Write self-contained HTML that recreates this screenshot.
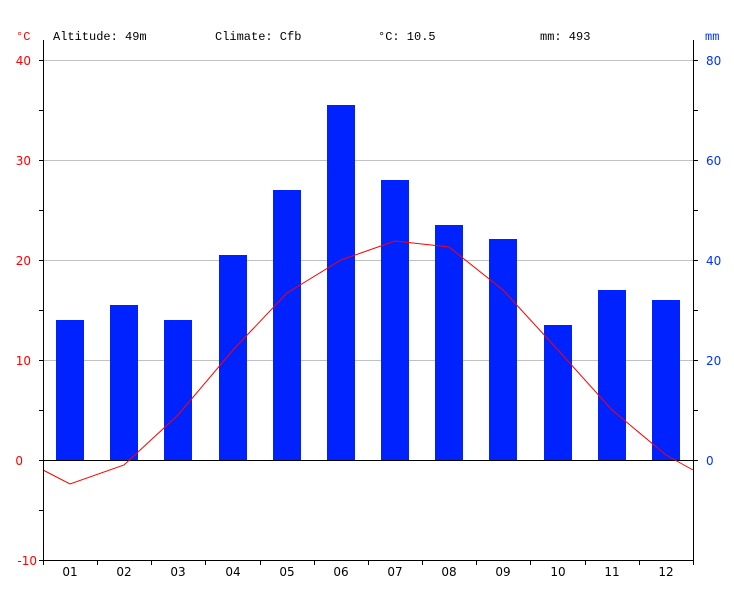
<!DOCTYPE html>
<html><head><meta charset="utf-8"><style>
html,body{margin:0;padding:0;background:#fff;}
svg{display:block;}
</style></head><body>
<svg width="734" height="600" xmlns="http://www.w3.org/2000/svg">
<g font-family="Liberation Mono, DejaVu Sans Mono, monospace" font-size="12" fill="#000">
<text x="16" y="40" fill="#ff0000">°C</text>
<text x="53" y="40">Altitude: 49m</text>
<text x="215" y="40">Climate: Cfb</text>
<text x="378" y="40">°C: 10.5</text>
<text x="540" y="40">mm: 493</text>
<text x="705" y="40" fill="#0033ff">mm</text>
</g>
<g stroke="#c0c0c0" stroke-width="1">
<line x1="44" y1="60.5" x2="693" y2="60.5"/>
<line x1="44" y1="160.5" x2="693" y2="160.5"/>
<line x1="44" y1="260.5" x2="693" y2="260.5"/>
<line x1="44" y1="360.5" x2="693" y2="360.5"/>
</g>
<g fill="#0022ff">
<rect x="56" y="320" width="28" height="140"/>
<rect x="110" y="305" width="28" height="155"/>
<rect x="164" y="320" width="28" height="140"/>
<rect x="219" y="255" width="28" height="205"/>
<rect x="273" y="190" width="28" height="270"/>
<rect x="327" y="105" width="28" height="355"/>
<rect x="381" y="180" width="28" height="280"/>
<rect x="435" y="225" width="28" height="235"/>
<rect x="489" y="239" width="28" height="221"/>
<rect x="544" y="325" width="28" height="135"/>
<rect x="598" y="290" width="28" height="170"/>
<rect x="652" y="300" width="28" height="160"/>
</g>
<line x1="44" y1="460.5" x2="693" y2="460.5" stroke="#000"/>
<polyline fill="none" stroke="#ff0000" stroke-width="1" points="43,470 70,484 124,465 178,415 233,350 287,293 341,260 395,241 449,247 503,290 558,350 612,410 666,455 693,470"/>
<g stroke="#000" stroke-width="1">
<line x1="43.5" y1="40" x2="43.5" y2="560"/>
<line x1="693.5" y1="40" x2="693.5" y2="560"/>
<line x1="43" y1="560.5" x2="694" y2="560.5"/>
<line x1="39" y1="60.5" x2="43" y2="60.5"/>
<line x1="39" y1="110.5" x2="43" y2="110.5"/>
<line x1="39" y1="160.5" x2="43" y2="160.5"/>
<line x1="39" y1="210.5" x2="43" y2="210.5"/>
<line x1="39" y1="260.5" x2="43" y2="260.5"/>
<line x1="39" y1="310.5" x2="43" y2="310.5"/>
<line x1="39" y1="360.5" x2="43" y2="360.5"/>
<line x1="39" y1="410.5" x2="43" y2="410.5"/>
<line x1="39" y1="460.5" x2="43" y2="460.5"/>
<line x1="39" y1="510.5" x2="43" y2="510.5"/>
<line x1="39" y1="560.5" x2="43" y2="560.5"/>
<line x1="694" y1="60.5" x2="698" y2="60.5"/>
<line x1="694" y1="110.5" x2="698" y2="110.5"/>
<line x1="694" y1="160.5" x2="698" y2="160.5"/>
<line x1="694" y1="210.5" x2="698" y2="210.5"/>
<line x1="694" y1="260.5" x2="698" y2="260.5"/>
<line x1="694" y1="310.5" x2="698" y2="310.5"/>
<line x1="694" y1="360.5" x2="698" y2="360.5"/>
<line x1="694" y1="410.5" x2="698" y2="410.5"/>
<line x1="694" y1="460.5" x2="698" y2="460.5"/>
<line x1="43.5" y1="560" x2="43.5" y2="565"/>
<line x1="97.5" y1="560" x2="97.5" y2="565"/>
<line x1="151.5" y1="560" x2="151.5" y2="565"/>
<line x1="205.5" y1="560" x2="205.5" y2="565"/>
<line x1="260.5" y1="560" x2="260.5" y2="565"/>
<line x1="314.5" y1="560" x2="314.5" y2="565"/>
<line x1="368.5" y1="560" x2="368.5" y2="565"/>
<line x1="422.5" y1="560" x2="422.5" y2="565"/>
<line x1="476.5" y1="560" x2="476.5" y2="565"/>
<line x1="530.5" y1="560" x2="530.5" y2="565"/>
<line x1="585.5" y1="560" x2="585.5" y2="565"/>
<line x1="639.5" y1="560" x2="639.5" y2="565"/>
<line x1="693.5" y1="560" x2="693.5" y2="565"/>
</g>
<g font-family="DejaVu Sans, Liberation Sans, sans-serif" font-size="12" fill="#ff0000" text-anchor="end">
<text x="31" y="65">40</text>
<text x="31" y="165">30</text>
<text x="31" y="265">20</text>
<text x="31" y="365">10</text>
<text x="23" y="465">0</text>
<text x="37" y="565">-10</text>
</g>
<g font-family="DejaVu Sans, Liberation Sans, sans-serif" font-size="12" fill="#0033ff">
<text x="706" y="65">80</text>
<text x="706" y="165">60</text>
<text x="706" y="265">40</text>
<text x="706" y="365">20</text>
<text x="706" y="465">0</text>
</g>
<g font-family="DejaVu Sans, Liberation Sans, sans-serif" font-size="12" fill="#000" text-anchor="middle">
<text x="70" y="576">01</text>
<text x="124" y="576">02</text>
<text x="178" y="576">03</text>
<text x="233" y="576">04</text>
<text x="287" y="576">05</text>
<text x="341" y="576">06</text>
<text x="395" y="576">07</text>
<text x="449" y="576">08</text>
<text x="503" y="576">09</text>
<text x="558" y="576">10</text>
<text x="612" y="576">11</text>
<text x="666" y="576">12</text>
</g>
</svg>
</body></html>
